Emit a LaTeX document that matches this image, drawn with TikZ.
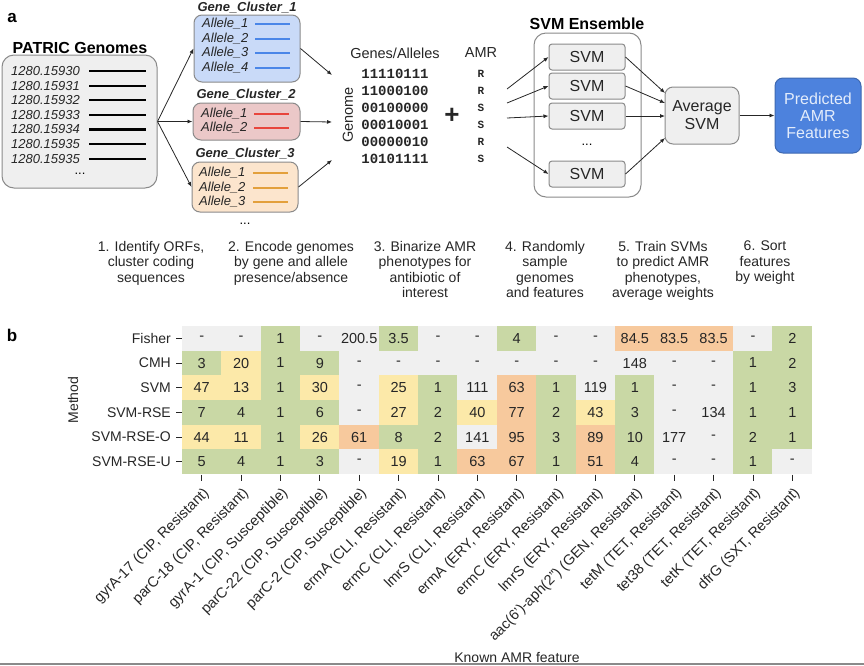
\documentclass[tikz,border=0pt]{standalone}
\usepackage{fontspec}
\setmainfont{Liberation Sans}
\setmonofont{Liberation Mono}
\usetikzlibrary{arrows.meta}
\definecolor{boxgrey}{HTML}{EFEFEF}
\definecolor{edgegrey}{HTML}{8A8A8A}
\definecolor{bluefill}{HTML}{C9DAF8}
\definecolor{blueline}{HTML}{4A86E8}
\definecolor{redfill}{HTML}{EBC8C8}
\definecolor{redline}{HTML}{E8453C}
\definecolor{orgfill}{HTML}{FCE5CD}
\definecolor{orgline}{HTML}{E3A03C}
\definecolor{predfill}{HTML}{4D82DD}
\definecolor{prededge}{HTML}{3E68B0}
\definecolor{predtext}{HTML}{E3ECFB}
\definecolor{hG}{HTML}{F0F0F0}
\definecolor{hN}{HTML}{C9D8A5}
\definecolor{hY}{HTML}{FCE9A9}
\definecolor{hO}{HTML}{F7C99D}
\definecolor{txt}{HTML}{262626}
\newcommand\fsz[2]{\fontsize{#1}{#2}\selectfont}
\tikzset{
  rbox/.style={draw=edgegrey, line width=1pt, rounded corners=#1},
  conn/.style={-{Latex[length=5pt,width=4pt]}, line width=0.8pt, draw=black!85},
  idtext/.style={anchor=west, font=\fsz{13}{15}\itshape, inner sep=0pt, text=txt},
  cltitle/.style={font=\fsz{13}{15}\bfseries\itshape, inner sep=0pt, text=txt},
  svmbox/.style={draw=edgegrey, line width=1pt, rounded corners=3pt, fill=boxgrey,
     minimum width=76pt, minimum height=26pt, inner sep=0pt, font=\fsz{16}{18}, text=txt},
  steplab/.style={anchor=north, align=center, inner sep=0pt, font=\fsz{14}{15.5}, text=txt},
  cell/.style={minimum width=39.8pt, minimum height=25pt, inner sep=0pt, font=\fsz{14.5}{16}, text=txt},
  rowlab/.style={anchor=east, inner sep=0pt, font=\fsz{14}{16}, text=txt},
  collab/.style={anchor=north east, rotate=45, inner sep=0pt, font=\fsz{14.5}{16}, text=txt},
  bintext/.style={inner sep=0pt, font=\fsz{14}{16}\ttfamily\bfseries, text=txt},
  amrtext/.style={inner sep=0pt, font=\fsz{11}{12}\ttfamily\bfseries, text=txt},
  paneltag/.style={inner sep=0pt, font=\fsz{17}{19}\bfseries},
}
\begin{document}
\begin{tikzpicture}[x=1pt,y=-1pt]
\useasboundingbox (0,0) rectangle (864,665);

% ---------- panel a ----------
\node[paneltag] (taga) at (12,18) {a};
\node[font=\fsz{16}{18}\bfseries, inner sep=0pt] (gtitle) at (80,48) {PATRIC Genomes};
\node[rbox=12pt, fill=boxgrey, minimum width=155pt, minimum height=133pt] (genomes) at (79.5,121.5) {};
\foreach \gid [count=\i] in {15930,15931,15932,15933,15934,15935,15935}{
  \node[idtext] (gid\i) at (11,{71+14.6*(\i-1)}) {1280.\gid};
  \draw[line width=2.2pt] (89,{71+14.6*(\i-1)}) -- (146,{71+14.6*(\i-1)});
}
\node[inner sep=0pt, font=\fsz{13}{15}] (gdots) at (80,174) {...};

% clusters
\node[cltitle] (c1t) at (247,8) {Gene\_Cluster\_1};
\node[rbox=8pt, fill=bluefill, minimum width=106pt, minimum height=67pt] (c1) at (247,48.5) {};
\foreach \y [count=\i] in {24,39,53,68}{
  \node[idtext] (c1a\i) at (202,\y) {Allele\_\i};
  \draw[blueline, line width=1.5pt] (255,\y) -- (290,\y);
}
\node[cltitle] (c2t) at (246,95) {Gene\_Cluster\_2};
\node[rbox=8pt, fill=redfill, minimum width=107pt, minimum height=37pt] (c2) at (246.5,121.5) {};
\foreach \y [count=\i] in {114,128}{
  \node[idtext] (c2a\i) at (201,\y) {Allele\_\i};
  \draw[redline, line width=1.5pt] (254,\y) -- (289,\y);
}
\node[cltitle] (c3t) at (245,154) {Gene\_Cluster\_3};
\node[rbox=8pt, fill=orgfill, minimum width=106pt, minimum height=50pt] (c3) at (245,187) {};
\foreach \y [count=\i] in {173,188,202}{
  \node[idtext] (c3a\i) at (199,\y) {Allele\_\i};
  \draw[orgline, line width=1.5pt] (253,\y) -- (288,\y);
}
\node[inner sep=0pt, font=\fsz{13}{15}] (cdots) at (245,224) {...};

\draw[conn] (genomes.east) -- (c1.west);
\draw[conn] (genomes.east) -- (c2.west);
\draw[conn] (genomes.east) -- (c3.west);

\coordinate (m1) at (332,75);
\coordinate (m2) at (332,122);
\coordinate (m3) at (332,160);
\draw[conn] (c1.east) -- (m1);
\draw[conn] (c2.east) -- (m2);
\draw[conn] (c3.east) -- (m3);

% matrix
\node[inner sep=0pt, font=\fsz{14.5}{16}, text=txt] (genes) at (395,53) {Genes/Alleles};
\node[inner sep=0pt, font=\fsz{14.5}{16}, text=txt] (amr) at (481,53) {AMR};
\node[inner sep=0pt, font=\fsz{14.5}{16}, text=txt, rotate=90] (genome) at (348,115) {Genome};
\foreach \b/\a [count=\i] in {11110111/R,11000100/R,00100000/S,00010001/S,00000010/R,10101111/S}{
  \node[bintext] (bin\i) at (395,{74+17*(\i-1)}) {\b};
  \node[amrtext] (res\i) at (481,{74+17*(\i-1)}) {\a};
}
\node[inner sep=0pt, font=\fsz{26}{26}\bfseries, text=txt] (plus) at (452,116) {+};

% ensemble
\node[font=\fsz{16}{18}\bfseries, inner sep=0pt] (enstitle) at (587,24) {SVM Ensemble};
\node[rbox=12pt, fill=white, minimum width=107pt, minimum height=164pt] (ens) at (587.5,115) {};
\node[svmbox] (svm1) at (587,57) {SVM};
\node[svmbox] (svm2) at (587,86) {SVM};
\node[svmbox] (svm3) at (587,116) {SVM};
\node[svmbox] (svm4) at (587,174) {SVM};
\node[inner sep=0pt, font=\fsz{13}{15}] (sdots) at (587,145) {...};

\coordinate (a1) at (507,89);
\coordinate (a2) at (507,103);
\coordinate (a3) at (507,118);
\coordinate (a4) at (507,147);
\draw[conn] (a1) -- (svm1.west);
\draw[conn] (a2) -- (svm2.west);
\draw[conn] (a3) -- (svm3.west);
\draw[conn] (a4) -- (svm4.west);

\node[rbox=8pt, fill=boxgrey, minimum width=74pt, minimum height=57pt, align=center,
      font=\fsz{16}{18}, text=txt, inner sep=0pt] (avg) at (702,115.5) {Average\\SVM};
\coordinate (v1) at (665,93);
\coordinate (v2) at (665,103);
\coordinate (v3) at (665,116);
\coordinate (v4) at (665,138);
\draw[conn] (svm1.east) -- (v1);
\draw[conn] (svm2.east) -- (v2);
\draw[conn] (svm3.east) -- (v3);
\draw[conn] (svm4.east) -- (v4);

\node[draw=prededge, line width=1pt, rounded corners=8pt, fill=predfill, minimum width=86pt,
      minimum height=75pt, align=center, font=\fsz{16}{17}, text=predtext, inner sep=0pt]
      (pred) at (818,115.5) {Predicted\\AMR\\Features};
\draw[conn] (avg.east) -- (pred.west);

% step labels
\node[steplab] (st1) at (151,241) {1. Identify ORFs,\\cluster coding\\sequences};
\node[steplab] (st2) at (291,241) {2. Encode genomes\\by gene and allele\\presence/absence};
\node[steplab] (st3) at (425,241) {3. Binarize AMR\\phenotypes for\\antibiotic of\\interest};
\node[steplab] (st4) at (545,241) {4. Randomly\\sample\\genomes\\and features};
\node[steplab] (st5) at (663,241) {5. Train SVMs\\to predict AMR\\phenotypes,\\average weights};
\node[steplab] (st6) at (765,241) {6. Sort\\features\\by weight};

% ---------- panel b ----------
\node[paneltag] (tagb) at (12,335) {b};
\foreach \rowdata [count=\r] in {
 {-/G,-/G,1/N,-/G,200.5/G,3.5/N,-/G,-/G,4/N,-/G,-/G,84.5/O,83.5/O,83.5/O,-/G,2/N},
 {3/N,20/Y,1/N,9/N,-/G,-/G,-/G,-/G,-/G,-/G,-/G,148/G,-/G,-/G,1/N,2/N},
 {47/Y,13/Y,1/N,30/Y,-/G,25/Y,1/N,111/G,63/O,1/N,119/G,1/N,-/G,-/G,1/N,3/N},
 {7/N,4/N,1/N,6/N,-/G,27/Y,2/N,40/Y,77/O,2/N,43/Y,3/N,-/G,134/G,1/N,1/N},
 {44/Y,11/Y,1/N,26/Y,61/O,8/N,2/N,141/G,95/O,3/N,89/O,10/N,177/G,-/G,2/N,1/N},
 {5/N,4/N,1/N,3/N,-/G,19/Y,1/N,63/O,67/O,1/N,51/O,4/N,-/G,-/G,1/N,-/G}}{
  \foreach \hv/\hc [count=\k] in \rowdata {
    \node[cell, fill=h\hc] (h\r-\k) at ({182+39.375*(\k-0.5)},{326+24.667*(\r-0.5)}) {\hv};
  }
}
\foreach \rl [count=\r] in {Fisher,CMH,SVM,SVM-RSE,SVM-RSE-O,SVM-RSE-U}{
  \node[rowlab] (rl\r) at (171,{326+24.667*(\r-0.5)}) {\rl};
  \draw[txt, line width=0.8pt] (176,{326+24.667*(\r-0.5)}) -- (181.5,{326+24.667*(\r-0.5)});
}
\node[inner sep=0pt, font=\fsz{14}{16}, text=txt, rotate=90] (method) at (73,400) {Method};
\foreach \cl [count=\k] in {{gyrA-17 (CIP, Resistant)},{parC-18 (CIP, Resistant)},
  {gyrA-1 (CIP, Susceptible)},{parC-22 (CIP, Susceptible)},{parC-2 (CIP, Susceptible)},
  {ermA (CLI, Resistant)},{ermC (CLI, Resistant)},{lmrS (CLI, Resistant)},
  {ermA (ERY, Resistant)},{ermC (ERY, Resistant)},{lmrS (ERY, Resistant)},
  {aac(6')-aph(2'') (GEN, Resistant)},{tetM (TET, Resistant)},{tet38 (TET, Resistant)},
  {tetK (TET, Resistant)},{dfrG (SXT, Resistant)}}{
  \draw[txt, line width=0.8pt] ({182+39.375*(\k-0.5)},474.5) -- ({182+39.375*(\k-0.5)},481);
  \node[collab] (cl\k) at ({182+39.375*(\k-0.5)+0.5},486) {\cl};
}
\node[inner sep=0pt, font=\fsz{14}{16}, text=txt] (xaxis) at (517,657) {Known AMR feature};
\draw[edgegrey, line width=1.5pt] (0,664) -- (864,664);
\end{tikzpicture}
\end{document}
